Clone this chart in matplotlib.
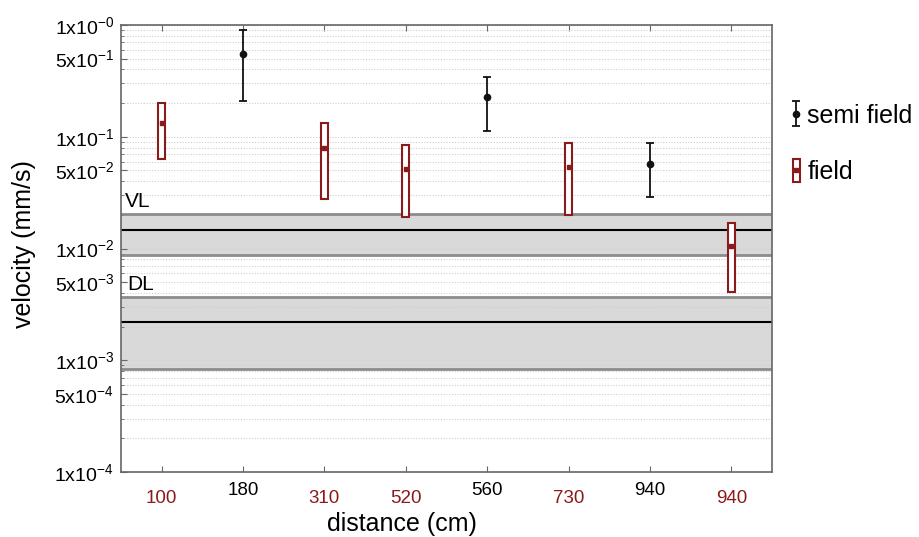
import matplotlib
matplotlib.use('Agg')
import matplotlib.pyplot as plt
import matplotlib.ticker as mticker
import matplotlib.transforms as mtransforms
from matplotlib.patches import Rectangle
from matplotlib.lines import Line2D
from matplotlib.legend_handler import HandlerPatch, HandlerTuple
import numpy as np

plt.rcParams['font.family'] = ['Liberation Sans', 'DejaVu Sans']
plt.rcParams['mathtext.fontset'] = 'custom'
plt.rcParams['mathtext.rm'] = 'Liberation Sans'
plt.rcParams['mathtext.it'] = 'Liberation Sans:italic'

# datos
distance_labels = ['100', '180', '310', '520', '560', '730', '940', '940']
group = ['field', 'semi', 'field', 'field', 'semi', 'field', 'semi', 'field']
v_center = [0.132, 0.550, 0.0798, 0.0515, 0.2255, 0.0540, 0.0574, 0.0106]
v_upper = [0.199, 0.902, 0.132, 0.0838, 0.340, 0.0885, 0.0873, 0.0168]
v_lower = [0.0632, 0.209, 0.0275, 0.0193, 0.1126, 0.0200, 0.0287, 0.0041]

# bandas de referencia (inferior, linea, superior)
vl_band = (0.00875, 0.01465, 0.0204)
dl_band = (0.000835, 0.0022, 0.00368)

RED = '#8b1a1a'

fig = plt.figure(figsize=(9.19, 5.37), dpi=100)
ax = fig.add_axes([121 / 919, 65 / 537, 651 / 919, 447 / 537])

x = np.arange(1, len(distance_labels) + 1)
xc = np.array(v_center)
xu = np.array(v_upper)
xl = np.array(v_lower)
is_field = np.array([g == 'field' for g in group])

# bandas
for lo, mid, hi in (vl_band, dl_band):
    ax.axhspan(lo, hi, facecolor='#d9d9d9', edgecolor='none', zorder=0.3)
    ax.axhline(lo, color='#8c8c8c', lw=2, zorder=0.6)
    ax.axhline(hi, color='#8c8c8c', lw=2, zorder=0.6)
    ax.axhline(mid, color='black', lw=1.5, zorder=0.7)

ax.text(0.55, vl_band[2] * 1.07, 'VL', fontsize=15, va='bottom', ha='left')
ax.text(0.58, dl_band[2] * 1.07, 'DL', fontsize=15, va='bottom', ha='left')

# semi field
semi = ax.errorbar(x[~is_field], xc[~is_field],
                   yerr=[xc[~is_field] - xl[~is_field], xu[~is_field] - xc[~is_field]],
                   fmt='o', color='#111111', ms=4.5, capsize=3, elinewidth=1.3,
                   capthick=1.3, zorder=3)

# field (cajas)
ax.bar(x[is_field], xu[is_field] - xl[is_field], bottom=xl[is_field], width=0.085,
       facecolor='white', edgecolor=RED, linewidth=1.5, zorder=3)
ax.plot(x[is_field], xc[is_field], 's', color=RED, ms=3, zorder=4)

ax.set_yscale('log')
ax.set_ylim(1e-4, 1)
ax.set_xlim(0.5, len(distance_labels) + 0.5)

major = []
for e in range(-4, 1):
    major.append(10.0 ** e)
    if e < 0:
        major.append(5 * 10.0 ** e)
ax.yaxis.set_major_locator(mticker.FixedLocator(major))
ax.yaxis.set_minor_locator(mticker.LogLocator(base=10, subs=[2, 3, 4, 6, 7, 8, 9]))


def fmt_y(v, pos):
    e = int(np.floor(np.log10(v) + 1e-9))
    m = int(round(v / 10.0 ** e))
    s = '-0' if e == 0 else str(e)
    return r'$\mathregular{%dx10^{%s}}$' % (m, s)


ax.yaxis.set_major_formatter(mticker.FuncFormatter(fmt_y))
ax.yaxis.set_minor_formatter(mticker.NullFormatter())

ax.grid(True, which='both', axis='y', color='#cfcfcf', linestyle=(0, (1, 1.5)), lw=0.8)
ax.set_axisbelow(True)

ax.set_xticks(x)
ax.set_xticklabels(distance_labels)
ax.tick_params(axis='x', direction='in', top=True, length=4, pad=13, labelsize=13.5)
ax.tick_params(axis='y', which='major', direction='in', length=4, labelsize=14, pad=5)
ax.tick_params(axis='y', which='minor', direction='in', length=2.5)
for spine in ax.spines.values():
    spine.set_color('#666666')
    spine.set_linewidth(1.2)
ax.tick_params(colors='#666666', which='both')
for lab in ax.get_yticklabels():
    lab.set_color('black')

shift = mtransforms.ScaledTranslation(0, 6 / 72, fig.dpi_scale_trans)
for lab, g in zip(ax.get_xticklabels(), group):
    if g == 'field':
        lab.set_color(RED)
    else:
        lab.set_color('black')
        lab.set_transform(lab.get_transform() + shift)

ax.set_xlabel('distance (cm)', fontsize=18)
ax.xaxis.set_label_coords(0.432, -0.089)
ax.set_ylabel('velocity (mm/s)', fontsize=18)
ax.yaxis.set_label_coords(-0.131, 0.511)


# leyenda
def make_box(legend, orig_handle, xdescent, ydescent, width, height, fontsize):
    return Rectangle((-xdescent + width / 2 - 2.5, -ydescent - 0.15 * height), 5, 1.3 * height)


box_handle = Rectangle((0, 0), 1, 1, facecolor='white', edgecolor=RED, linewidth=1.5)
dot_handle = Line2D([], [], marker='s', color=RED, ms=3, linestyle='none')
leg = fig.legend([semi, (box_handle, dot_handle)], ['semi field', 'field'],
                 loc='upper left', bbox_to_anchor=(0.835, 0.849), frameon=False,
                 fontsize=18, handlelength=0.5, handletextpad=0.2, labelspacing=1.3,
                 handler_map={Rectangle: HandlerPatch(patch_func=make_box),
                              tuple: HandlerTuple(ndivide=1)})

fig.savefig('out.png', dpi=100)
